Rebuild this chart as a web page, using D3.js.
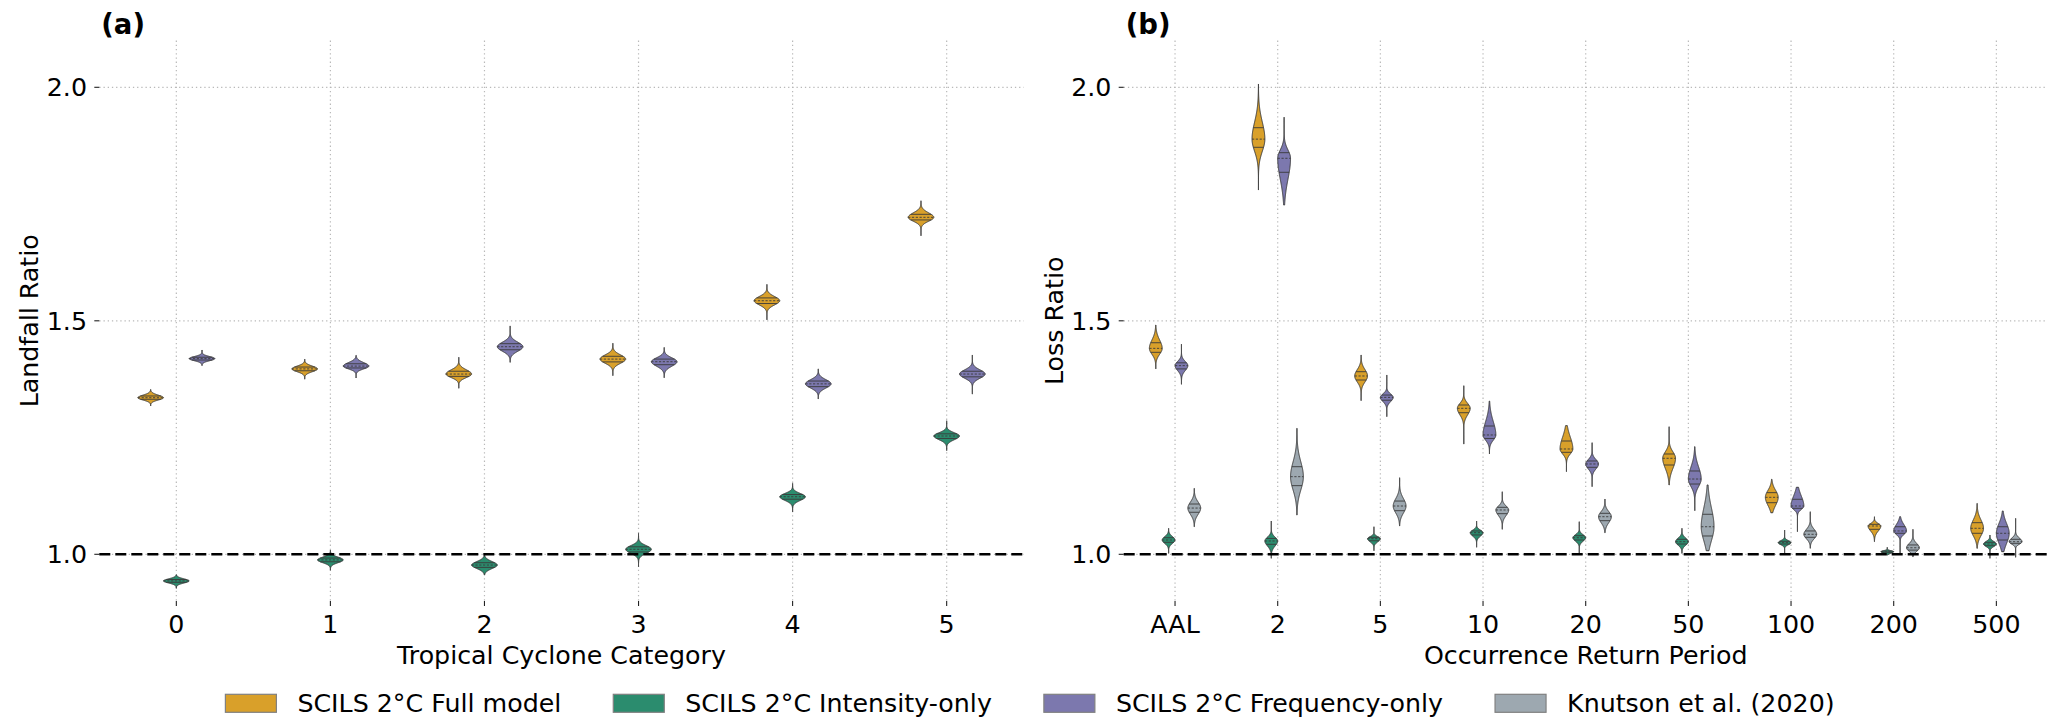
<!DOCTYPE html>
<html><head><meta charset="utf-8">
<script src="https://cdn.jsdelivr.net/npm/d3@7"></script>
<style>
html,body{margin:0;padding:0;background:#fff;}
svg{display:block;font-family:"DejaVu Sans",sans-serif;}
</style></head><body>
<svg id="chart" width="2056" height="719"></svg>
<script>
// ---------------- data ----------------
const categoriesA = ["0","1","2","3","4","5"];
const categoriesB = ["AAL","2","5","10","20","50","100","200","500"];
const seriesNames = ["SCILS 2°C Full model","SCILS 2°C Intensity-only","SCILS 2°C Frequency-only","Knutson et al. (2020)"];
const seriesColors = ["#D9A02A","#2B8C6E","#7C78AE","#9DA8B0"];
const yTicks = [1.0, 1.5, 2.0];
const yTickLabels = ["1.0","1.5","2.0"];

// each violin: [min, q1, median, q3, max]
const landfallFull = [
  [1.3176,1.332,1.3353,1.339,1.353],[1.375,1.393,1.397,1.401,1.418],[1.3555,1.381,1.386,1.392,1.422],
  [1.3825,1.412,1.418,1.424,1.452],[1.502,1.537,1.543,1.549,1.578],[1.682,1.716,1.7216,1.728,1.757]];
const landfallIntensity = [
  [0.927,0.940,0.943,0.946,0.956],[0.966,0.984,0.988,0.992,1.009],[0.956,0.972,0.977,0.982,0.9985],
  [0.9735,1.005,1.0107,1.016,1.045],[1.091,1.118,1.1233,1.128,1.152],[1.222,1.248,1.2533,1.258,1.286]];
const landfallFrequency = [
  [1.404,1.416,1.419,1.422,1.4375],[1.3775,1.399,1.403,1.408,1.426],[1.411,1.438,1.4445,1.451,1.489],
  [1.378,1.406,1.4124,1.418,1.443],[1.3325,1.359,1.365,1.371,1.397],[1.343,1.380,1.386,1.392,1.4268]];

const lossFull = [
  [1.397,1.4325,1.441,1.453,1.491],[1.780,1.8715,1.889,1.9135,2.007],[1.329,1.3732,1.3818,1.391,1.4268],
  [1.236,1.3032,1.3126,1.3197,1.361],[1.1769,1.2184,1.2255,1.2426,1.2754],[1.1484,1.1912,1.2056,1.2148,1.2732],
  [1.089,1.1105,1.122,1.132,1.1606],[1.027,1.0535,1.0606,1.0642,1.0805],[1.0128,1.045,1.0557,1.0677,1.109]];
const lossIntensity = [
  [1.002,1.0257,1.0306,1.0355,1.0557],[0.9914,1.0214,1.0285,1.034,1.0713],[1.0077,1.029,1.0334,1.0364,1.059],
  [1.015,1.0414,1.0463,1.05,1.0713],[1.002,1.0306,1.0355,1.0398,1.0698],[1.002,1.022,1.027,1.0321,1.0557],
  [1.002,1.022,1.0249,1.0278,1.052],[0.9985,1.0035,1.0056,1.007,1.015],[0.9914,1.0184,1.022,1.0257,1.0413]];
const lossFrequency = [
  [1.364,1.397,1.404,1.410,1.450],[1.748,1.818,1.848,1.860,1.936],[1.2947,1.330,1.336,1.341,1.384],
  [1.2148,1.248,1.2555,1.2747,1.328],[1.1448,1.1863,1.1934,1.1998,1.239],[1.0934,1.1505,1.1612,1.1784,1.2304],
  [1.0484,1.0985,1.1034,1.1178,1.1435],[1.002,1.045,1.05,1.059,1.0805],[1.0056,1.0306,1.045,1.059,1.0927]];
const lossKnutson = [
  [1.059,1.090,1.099,1.1077,1.1413],[1.084,1.147,1.1662,1.1876,1.2698],[1.0606,1.0934,1.1034,1.114,1.164],
  [1.0535,1.087,1.0949,1.1006,1.134],[1.0463,1.072,1.0805,1.0878,1.1184],[1.0077,1.0392,1.059,1.0857,1.1484],
  [1.0128,1.0364,1.0428,1.05,1.0912],[0.995,1.009,1.014,1.02,1.0535],[0.9936,1.0235,1.027,1.0321,1.077]];

// ---------------- layout ----------------
const svg = d3.select("#chart");
const FONT = 25.3;
const yTop = 40.6, yBottom = 601;
const y = d3.scaleLinear().domain([0.9, 2.1]).range([yBottom, yTop]);
const colorOf = d3.scaleOrdinal().domain(seriesNames).range(seriesColors);

const panels = [
  {left: 99.3, right: 1023.7, cats: categoriesA, hues: seriesNames.slice(0,3),
   data: [landfallFull, landfallIntensity, landfallFrequency],
   title: "(a)", xlabel: "Tropical Cyclone Category", ylabel: "Landfall Ratio"},
  {left: 1123.7, right: 2047.7, cats: categoriesB, hues: seriesNames,
   data: [lossFull, lossIntensity, lossFrequency, lossKnutson],
   title: "(b)", xlabel: "Occurrence Return Period", ylabel: "Loss Ratio"}
];

const outline = "#3a3a3a";

panels.forEach(p => {
  const g = svg.append("g");
  const x = d3.scaleBand().domain(p.cats).range([p.left, p.right]).paddingInner(0).paddingOuter(0);
  const bw = x.bandwidth();
  const hueX = d3.scaleBand().domain(p.hues).range([-bw*0.25, bw*0.25]);
  const halfMax = hueX.bandwidth()/2;

  // grid
  const grid = g.append("g").attr("stroke", "#b9b9b9").attr("stroke-width", 1.2).attr("stroke-dasharray", "1.3,2.9");
  grid.selectAll("line.v").data(p.cats).join("line").attr("class","v")
    .attr("x1", d => x(d) + bw/2).attr("x2", d => x(d) + bw/2).attr("y1", yTop).attr("y2", yBottom);
  grid.selectAll("line.h").data(yTicks).join("line").attr("class","h")
    .attr("x1", p.left).attr("x2", p.right).attr("y1", d => y(d)).attr("y2", d => y(d));

  // violins
  const area = d3.area().x0(d => d.cx - d.w).x1(d => d.cx + d.w).y(d => y(d.v)).curve(d3.curveLinear);
  p.hues.forEach((hue, hi) => {
    const arr = p.data[hi];
    arr.forEach((s, ci) => {
      const [lo, q1, md, q3, hiV] = s;
      const cx = x(p.cats[ci]) + bw/2 + hueX(hue) + halfMax;
      const wAt = v => {
        const sd = (v >= md ? (q3 - md) : (md - q1)) / 0.6745;
        return halfMax * Math.exp(-0.5 * Math.pow((v - md) / sd, 2));
      };
      const n = 160;
      const vals = d3.range(n + 1).map(i => lo + (hiV - lo) * i / n).concat([md]).sort((a,b)=>a-b);
      const pts = vals.map(v => ({v, cx, w: wAt(v)}));
      const vg = g.append("g");
      vg.append("path").attr("d", area(pts)).attr("fill", colorOf(hue))
        .attr("stroke", outline).attr("stroke-width", 1).attr("stroke-linejoin", "round");
      [[q1, null], [md, "2.2,1.6"], [q3, null]].forEach(([qv, dash]) => {
        const w = wAt(qv);
        const ln = vg.append("line").attr("x1", cx - w).attr("x2", cx + w)
          .attr("y1", y(qv)).attr("y2", y(qv)).attr("stroke", outline).attr("stroke-width", 0.9);
        if (dash) ln.attr("stroke-dasharray", dash);
      });
    });
  });

  // reference line at 1.0
  g.append("line").attr("x1", p.left).attr("x2", p.right).attr("y1", y(1)).attr("y2", y(1))
    .attr("stroke", "#000").attr("stroke-width", 2.6).attr("stroke-dasharray", "11,5");

  // y ticks
  const yt = g.append("g");
  yt.selectAll("line").data(yTicks).join("line")
    .attr("x1", p.left - 5).attr("x2", p.left).attr("y1", d => y(d)).attr("y2", d => y(d))
    .attr("stroke", "#222").attr("stroke-width", 1.1);
  yt.selectAll("text").data(yTicks).join("text")
    .attr("x", p.left - 12.3).attr("y", d => y(d)).attr("dy", "0.36em")
    .attr("text-anchor", "end").attr("font-size", FONT).attr("fill", "#000")
    .text((d, i) => yTickLabels[i]);

  // x ticks
  const xt = g.append("g");
  xt.selectAll("line").data(p.cats).join("line")
    .attr("x1", d => x(d) + bw/2).attr("x2", d => x(d) + bw/2).attr("y1", yBottom).attr("y2", yBottom + 5)
    .attr("stroke", "#222").attr("stroke-width", 1.1);
  xt.selectAll("text").data(p.cats).join("text")
    .attr("x", d => x(d) + bw/2).attr("y", 632.5).attr("text-anchor", "middle")
    .attr("font-size", FONT).attr("fill", "#000").text(d => d);

  // axis titles
  g.append("text").attr("x", (p.left + p.right)/2).attr("y", 663.5).attr("text-anchor", "middle")
    .attr("font-size", FONT).text(p.xlabel);
  g.append("text").attr("transform", `translate(${p.left - 61},${(yTop + yBottom)/2}) rotate(-90)`)
    .attr("text-anchor", "middle").attr("font-size", FONT).text(p.ylabel);
  g.append("text").attr("x", p.left + 2).attr("y", 33.5).attr("font-size", 27.5).attr("font-weight", "bold")
    .text(p.title);
});

// ---------------- legend ----------------
const lg = svg.append("g");
const swW = 51, swH = 18, gapST = 21, gapItem = 52;
let cursor = 0;
seriesNames.forEach((name, i) => {
  const it = lg.append("g").attr("transform", `translate(${cursor},0)`);
  it.append("rect").attr("x", 0).attr("y", 694.3).attr("width", swW).attr("height", swH)
    .attr("fill", seriesColors[i]).attr("stroke", "#808080").attr("stroke-width", 1.2);
  const t = it.append("text").attr("x", swW + gapST).attr("y", 711.8).attr("font-size", FONT).text(name);
  cursor += swW + gapST + t.node().getComputedTextLength() + gapItem;
});
const total = cursor - gapItem;
lg.attr("transform", `translate(${1030 - total/2},0)`);
</script>
</body></html>
